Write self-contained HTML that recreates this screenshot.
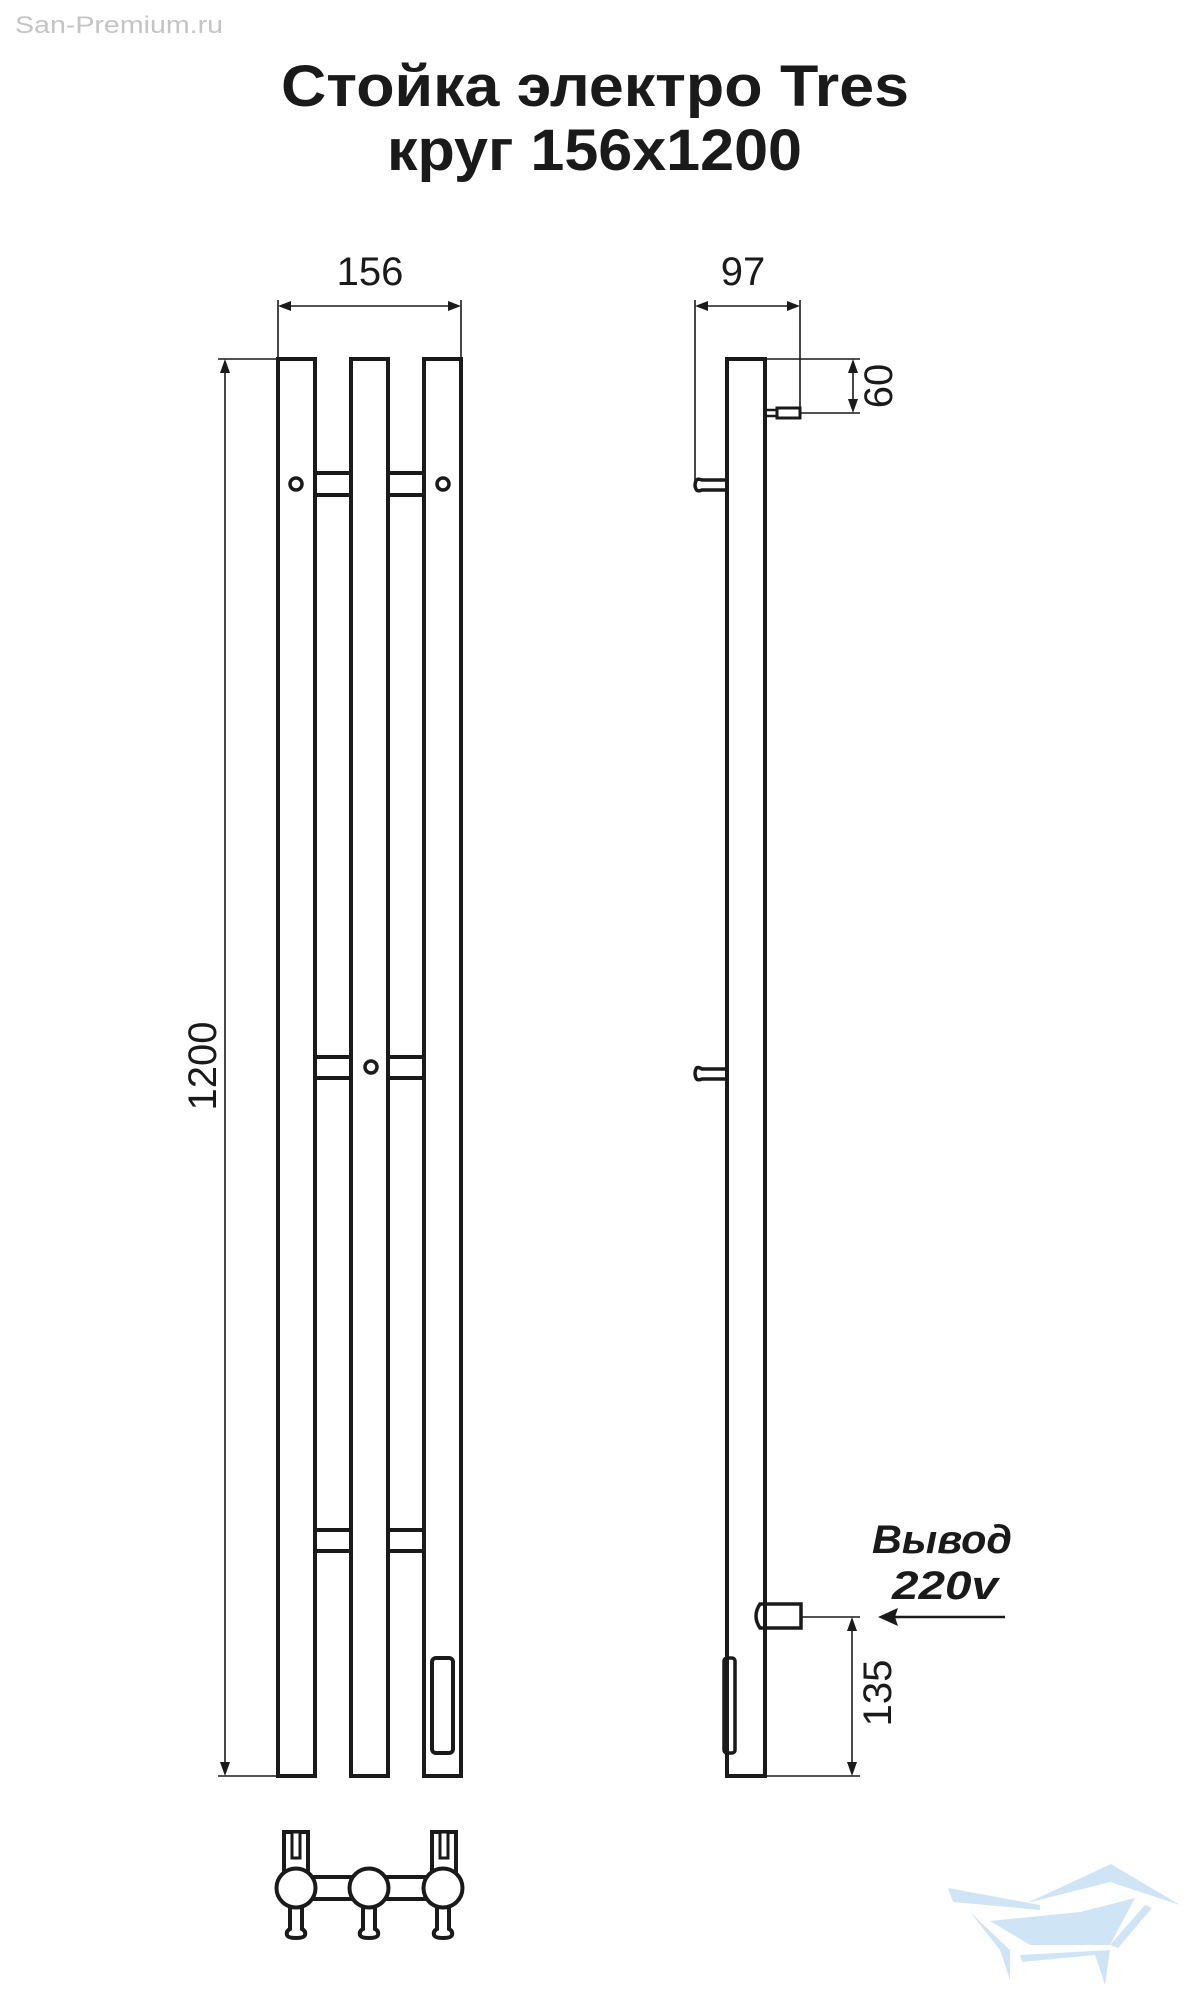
<!DOCTYPE html>
<html><head><meta charset="utf-8"><style>
html,body{margin:0;padding:0;background:#fff;}
svg{display:block;}
</style></head><body>
<svg width="1200" height="2000" viewBox="0 0 1200 2000" xmlns="http://www.w3.org/2000/svg">
<rect width="1200" height="2000" fill="#fff"/>
<text x="15" y="33" font-family="Liberation Sans, sans-serif" font-size="24" fill="#c4c4c4" textLength="208" lengthAdjust="spacingAndGlyphs">San-Premium.ru</text>
<g font-family="Liberation Sans, sans-serif" font-weight="bold" fill="#1a1a1a" font-size="58">
<text x="281" y="106" textLength="628" lengthAdjust="spacingAndGlyphs">Стойка электро Tres</text>
<text x="387" y="170" textLength="415" lengthAdjust="spacingAndGlyphs">круг 156x1200</text>
</g>
<g fill="none" stroke="#1a1a1a" stroke-width="4">
<rect x="278" y="359" width="37" height="1417"/>
<rect x="351" y="359" width="37" height="1417"/>
<rect x="424" y="359" width="37" height="1417"/>
<rect x="315" y="473" width="36" height="22"/>
<rect x="388" y="473" width="36" height="22"/>
<rect x="315" y="1057" width="36" height="21"/>
<rect x="388" y="1057" width="36" height="21"/>
<rect x="315" y="1530" width="36" height="21"/>
<rect x="388" y="1530" width="36" height="21"/>
<rect x="432" y="1658" width="21" height="95" rx="4"/>
<circle cx="296" cy="484" r="6" stroke-width="3.5"/>
<circle cx="443" cy="484" r="6" stroke-width="3.5"/>
<circle cx="371" cy="1067" r="6" stroke-width="3.5"/>
</g>
<!-- dims front -->
<g stroke="#1a1a1a" stroke-width="1.6" fill="none">
<line x1="278" y1="300" x2="278" y2="359"/>
<line x1="461" y1="300" x2="461" y2="359"/>
<line x1="284" y1="306" x2="455" y2="306"/>
<line x1="218" y1="359" x2="278" y2="359"/>
<line x1="218" y1="1776" x2="278" y2="1776"/>
<line x1="225" y1="366" x2="225" y2="1769"/>
</g>
<g fill="#1a1a1a">
<polygon points="278,306 291,301 291,311"/>
<polygon points="461,306 448,301 448,311"/>
<polygon points="225,359 220,373 230,373"/>
<polygon points="225,1776 220,1762 230,1762"/>
</g>
<g font-family="Liberation Sans, sans-serif" font-size="40" fill="#1a1a1a" text-anchor="middle">
<text x="370" y="285">156</text>
<text x="743" y="285">97</text>
<text transform="translate(216,1066) rotate(-90)">1200</text>
<text transform="translate(892,386) rotate(-90)">60</text>
<text transform="translate(891,1693) rotate(-90)">135</text>
</g>
<!-- bottom view -->
<g fill="#fff" stroke="#1a1a1a" stroke-width="4">
<rect x="310" y="1877" width="45" height="22"/>
<rect x="384" y="1877" width="45" height="22"/>
<rect x="284" y="1832" width="24" height="40"/>
<rect x="432" y="1832" width="24" height="40"/>
<rect x="292" y="1832" width="8" height="26" stroke-width="3"/>
<rect x="440" y="1832" width="8" height="26" stroke-width="3"/>
<path d="M290 1905 V1929 Q286 1931 287 1935 Q288 1938 296 1938 Q304 1938 305 1935 Q306 1931 302 1929 V1905" />
<path d="M363 1905 V1929 Q359 1931 360 1935 Q361 1938 369 1938 Q377 1938 378 1935 Q379 1931 375 1929 V1905" />
<path d="M437 1905 V1929 Q433 1931 434 1935 Q435 1938 443 1938 Q451 1938 452 1935 Q453 1931 449 1929 V1905" />
<circle cx="296" cy="1888" r="19.5"/>
<circle cx="369" cy="1888" r="19.5"/>
<circle cx="443" cy="1888" r="19.5"/>
</g>
<!-- side view -->
<g fill="none" stroke="#1a1a1a" stroke-width="4">
<rect x="727" y="359" width="38" height="1417"/>
<rect x="777" y="408" width="23" height="10" stroke-width="3"/>
<rect x="765" y="410" width="12" height="6" stroke-width="2.5"/>
<path d="M727 480 H702 Q697 478 696 481 Q694 485 696 489 Q697 492 702 490 H727" stroke-width="3.5"/>
<path d="M727 1069 H702 Q697 1066 696 1069 Q694 1073 696 1078 Q697 1081 702 1079 H727" stroke-width="3.5"/>
<path d="M765 1604 H760 Q756 1610 756 1616 Q756 1622 760 1628 H801 V1604 Z" stroke-width="3.5"/>
<rect x="724" y="1658" width="11" height="95" rx="3" stroke-width="3.5"/>
</g>
<g stroke="#1a1a1a" stroke-width="1.6" fill="none">
<line x1="695" y1="300" x2="695" y2="486"/>
<line x1="800" y1="300" x2="800" y2="412"/>
<line x1="701" y1="306" x2="794" y2="306"/>
<line x1="765" y1="359" x2="860" y2="359"/>
<line x1="800" y1="413" x2="860" y2="413"/>
<line x1="853" y1="366" x2="853" y2="406"/>
<line x1="801" y1="1617" x2="860" y2="1617"/>
<line x1="765" y1="1776" x2="860" y2="1776"/>
<line x1="852" y1="1624" x2="852" y2="1769"/>
<line x1="890" y1="1617" x2="1005" y2="1617" stroke-width="2.5"/>
</g>
<g fill="#1a1a1a">
<polygon points="695,306 708,301 708,311"/>
<polygon points="800,306 787,301 787,311"/>
<polygon points="853,359 848,373 858,373"/>
<polygon points="853,413 848,399 858,399"/>
<polygon points="852,1617 847,1631 857,1631"/>
<polygon points="852,1776 847,1762 857,1762"/>
<polygon points="878,1617 898,1608 895,1617 898,1626"/>
</g>
<g font-family="Liberation Sans, sans-serif" font-weight="bold" font-style="italic" font-size="40" fill="#1a1a1a" text-anchor="middle">
<text x="942" y="1553" textLength="140" lengthAdjust="spacingAndGlyphs">Вывод</text>
<text x="945" y="1599" textLength="106" lengthAdjust="spacingAndGlyphs">220v</text>
</g>
<!-- logo -->
<g fill="#cfe5f5">
<polygon points="948,1888 1040,1905 1040,1910 953,1902"/>
<polygon points="1027,1903 1111,1864 1180,1905 1110,1882"/>
<polygon points="990,1921 1080,1912 1135,1898 1110,1945 1030,1945"/>
<polygon points="970,1912 1010,1950 1010,1980 1000,1950"/>
<polygon points="1020,1955 1110,1950 1105,1985 1095,1955 1022,1962"/>
<polygon points="1110,1945 1145,1905 1152,1908 1118,1948"/>
</g>
</svg>
</body></html>
